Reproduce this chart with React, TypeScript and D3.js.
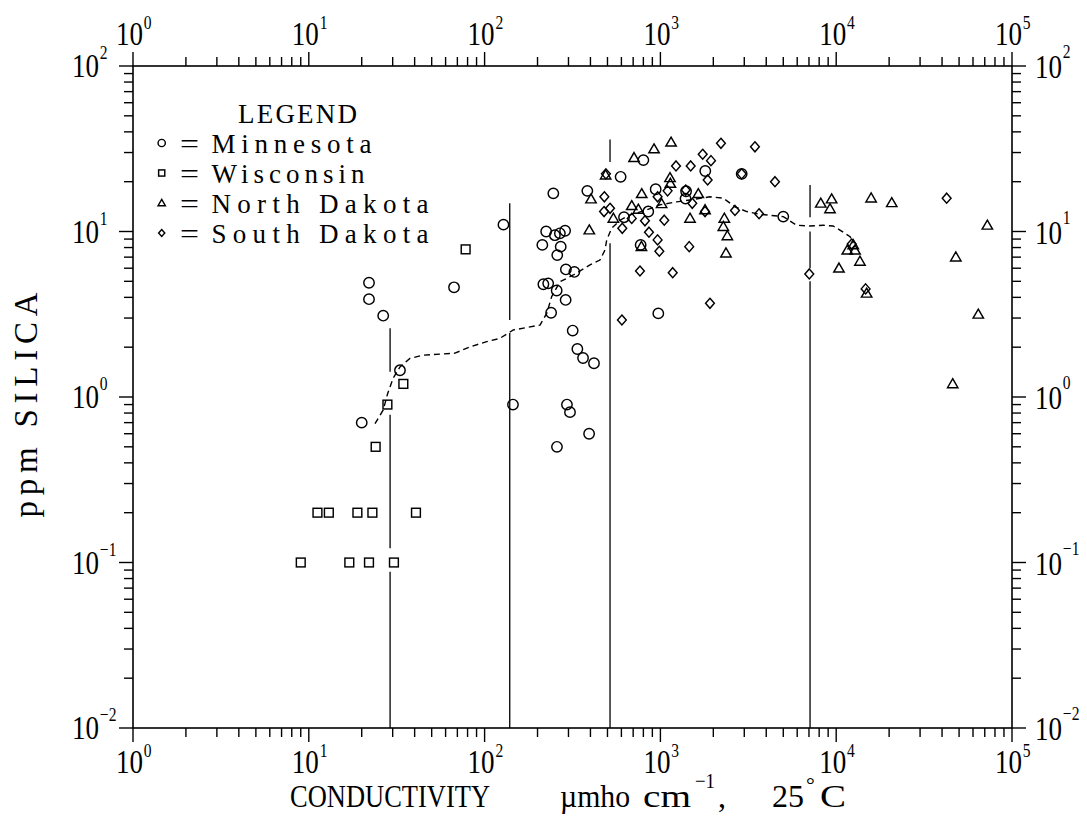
import React from 'react';
import * as d3 from 'd3';

// ---------- data ----------
const xMajorExp = ['0', '1', '2', '3', '4', '5'];
const yMajorExp = ['−2', '−1', '0', '1', '2'];

// [conductivity µmho/cm, ppm silica]
const minnesota: [number, number][] = [
  [22, 4.9], [22, 3.9], [26.5, 3.1], [67, 4.6], [33, 1.45], [20, 0.7],
  [128, 11], [145, 0.9],
  [246, 17], [224, 10], [251, 9.5], [268, 9.75], [287, 10.1], [213, 8.3], [271, 8.1], [259, 7.2],
  [290, 5.9], [324, 5.7], [216, 4.8], [230, 4.86], [257, 4.4], [289, 3.86], [239, 3.23], [317, 2.52],
  [337, 1.95], [363, 1.72], [419, 1.6], [294, 0.9], [306, 0.81], [393, 0.6], [258, 0.5],
  [384, 17.6], [594, 21.4], [800, 27], [621, 12.2], [940, 18], [853, 13.2], [772, 8.3], [973, 3.2],
  [1800, 23.2], [1400, 17.5], [1390, 15.8], [2900, 22.3], [5000, 12.3],
];

const wisconsin: [number, number][] = [
  [78, 7.8], [34.5, 1.2], [28, 0.9], [24, 0.5],
  [11.2, 0.2], [13, 0.2], [18.9, 0.2], [23, 0.2], [40.7, 0.2],
  [9, 0.1], [17, 0.1], [22, 0.1], [30.5, 0.1],
];

const northDakota: [number, number][] = [
  [1150, 34.6], [920, 31.5], [708, 27.9], [488, 21.9], [403, 15.7], [783, 16.9], [687, 14.3],
  [749, 13.6], [1016, 14.7], [1134, 21.1], [1140, 19.5], [540, 12], [394, 10.2], [1643, 16.9],
  [1474, 12], [2310, 12], [2280, 10.7], [2404, 9.4], [2360, 7.4], [780, 8.1], [1794, 13.5],
  [8170, 14.8], [9420, 15.7], [9220, 13.7], [15800, 15.9], [20700, 14.9], [72400, 10.9],
  [47900, 7], [64300, 3.16], [11560, 7.7], [12800, 7.7], [12500, 8.3], [13650, 6.6],
  [10370, 6], [14900, 4.23], [46000, 1.2],
];

const southDakota: [number, number][] = [
  [2210, 34.1], [3450, 32.5], [1740, 29.3], [1940, 26.8], [1227, 24.9], [1487, 24.9],
  [1857, 20.5], [4485, 20], [480, 16.2], [1393, 17.8], [1518, 14.8], [1794, 13.2], [478, 13.2],
  [517, 13.8], [687, 12], [607, 10.45], [817, 11.6], [1052, 11.7], [964, 16.2], [1099, 17.6],
  [861, 9.9], [964, 8.9], [986, 7.6], [1459, 8.1], [765, 5.77], [1175, 5.64], [1914, 3.68],
  [604, 2.92], [2656, 13.4], [3640, 12.8], [42500, 15.9], [7030, 5.54], [14700, 4.5],
  [12250, 8.4], [490, 22.3], [2900, 22.3],
];

// dashed trend curve
const curveC = [23.8, 26.5, 28.1, 30.2, 33, 37.6, 44.8, 67.9, 82.6, 102.8, 122, 145.6, 206.5, 225.5,
  240.8, 268.5, 319.6, 397.7, 453, 484, 495, 528, 589, 671, 836, 995, 1238, 1473, 1914, 2279, 2656,
  3096, 3687, 5003, 5960, 7100, 8450, 9590, 10500, 12000, 12500];
const curveV = [0.69, 0.835, 1.05, 1.3, 1.52, 1.71, 1.79, 1.84, 2.01, 2.16, 2.26, 2.54, 2.72, 3.2,
  4.04, 4.97, 5.46, 6.28, 6.72, 7.73, 8.88, 10.45, 11.7, 12.6, 13.5, 14.5, 15.1, 15.5, 16.2, 15.9, 14.1,
  13.2, 12.7, 12.3, 10.9, 10.8, 10.9, 10.8, 10.2, 9.3, 8.5];

// vertical reference lines: conductivity, and [top, bottom] ppm of each drawn piece
const vLineC = [29, 139, 517, 7100];
const vLinePieces: [number, number][][] = [
  [[2.6, 1.42], [0.78, 0.122], [0.088, 0.01]],
  [[14.8, 2.92], [2.44, 0.01]],
  [[36, 26.3], [8.5, 0.01]],
  [[19.1, 12.2], [10.0, 6.0], [5.0, 0.01]],
];

const legendNames = ['Minnesota', 'Wisconsin', 'North Dakota', 'South Dakota'];
const legendWidths = [160, 153, 217, 217];

const FONT = '"Liberation Serif", "DejaVu Serif", serif';
const SW = 1.45;

function Marker({ kind, cx, cy, s = 1 }: { kind: number; cx: number; cy: number; s?: number }) {
  const common = { fill: 'none', stroke: '#000', strokeWidth: SW };
  if (kind === 0) return <circle cx={cx} cy={cy} r={5.2 * s} {...common} />;
  if (kind === 1) {
    const h = 4.4 * s;
    return <rect x={cx - h} y={cy - h} width={2 * h} height={2 * h} {...common} />;
  }
  if (kind === 2) {
    const w = 5.2 * s;
    return <path d={`M${cx},${cy - 5.2 * s}L${cx + w},${cy + 3.8 * s}L${cx - w},${cy + 3.8 * s}Z`} {...common} />;
  }
  const a = 4.4 * s, b = 5 * s;
  return <path d={`M${cx},${cy - b}L${cx + a},${cy}L${cx},${cy + b}L${cx - a},${cy}Z`} {...common} />;
}

// "10" with a superscript exponent, condensed like the original plotter lettering
function Pow({ x, y, exp, dy }: { x: number; y: number; exp: string; dy: number }) {
  return (
    <text transform={`translate(${x},${y}) scale(0.82,1)`} fontSize={33}>
      10<tspan fontSize={19} dx={1} dy={dy}>{exp}</tspan>
    </text>
  );
}

export default function App() {
  const x = d3.scaleLog().domain([1, 1e5]).range([133, 1012]);
  const y = d3.scaleLog().domain([0.01, 100]).range([728, 66]);
  const [x0, x1] = x.range();
  const [y0, y1] = y.range(); // y0 bottom, y1 top

  const xt = x.ticks();
  const yt = y.ticks();
  const isMajor = (v: number) => Math.abs(Math.log10(v) - Math.round(Math.log10(v))) < 1e-9;
  const MAJ = 14, MIN = 9;

  const line = d3.line<number>().x((_, i) => x(curveC[i])).y((_, i) => y(curveV[i]));
  const series = [minnesota, wisconsin, northDakota, southDakota];
  const xMajors = xt.filter(isMajor);
  const yMajors = yt.filter(isMajor);

  return (
    <svg width={1087} height={818} style={{ position: 'absolute', left: 0, top: 0, background: '#fff' }}
      fontFamily={FONT}>
      <rect width={1087} height={818} fill="#fff" />
      {/* frame */}
      <rect x={x0} y={y1} width={x1 - x0} height={y0 - y1} fill="none" stroke="#000" strokeWidth={1.6} />
      {/* x ticks bottom & top */}
      {xt.map((t, i) => {
        const L = isMajor(t) ? MAJ : MIN;
        return (
          <g key={'xt' + i} stroke="#000" strokeWidth={1.4}>
            <line x1={x(t)} x2={x(t)} y1={y0} y2={y0 + L} />
            <line x1={x(t)} x2={x(t)} y1={y1} y2={y1 - L} />
          </g>
        );
      })}
      {yt.map((t, i) => {
        const L = isMajor(t) ? MAJ : MIN;
        return (
          <g key={'yt' + i} stroke="#000" strokeWidth={1.4}>
            <line x1={x0} x2={x0 - L} y1={y(t)} y2={y(t)} />
            <line x1={x1} x2={x1 + L} y1={y(t)} y2={y(t)} />
          </g>
        );
      })}
      {/* x tick labels (bottom and top) */}
      {xMajors.map((t, i) => (
        <g key={'xl' + i}>
          <Pow x={x(t) - 17} y={y0 + 45} exp={xMajorExp[i]} dy={-16} />
          <Pow x={x(t) - 17} y={y1 - 21} exp={xMajorExp[i]} dy={-16} />
        </g>
      ))}
      {/* y tick labels (left and right) */}
      {yMajors.map((t, i) => (
        <g key={'yl' + i}>
          <Pow x={72} y={y(t) + 11} exp={yMajorExp[i]} dy={-18} />
          <Pow x={1035} y={y(t) + 12} exp={yMajorExp[i]} dy={-20} />
        </g>
      ))}
      {/* vertical reference lines */}
      {vLineC.map((c, i) =>
        vLinePieces[i].map((p, j) => (
          <line key={`v${i}-${j}`} x1={x(c)} x2={x(c)} y1={y(p[0])} y2={y(p[1])} stroke="#000" strokeWidth={1.3} />
        ))
      )}
      {/* dashed trend */}
      <path d={line(curveC) || ''} fill="none" stroke="#000" strokeWidth={1.4} strokeDasharray="6,4" />
      {/* points */}
      {series.map((s, k) => s.map((d, i) => <Marker key={`p${k}-${i}`} kind={k} cx={x(d[0])} cy={y(d[1])} />))}
      {/* legend */}
      <text x={238} y={122.5} fontSize={27} textLength={119} lengthAdjust="spacing">LEGEND</text>
      {legendNames.map((n, i) => {
        const by = 152.5 + 30 * i;
        return (
          <g key={'lg' + i}>
            <Marker kind={i} cx={161.7} cy={by - 9.5} s={0.7} />
            <text x={180} y={by} fontSize={27} textLength={19} lengthAdjust="spacingAndGlyphs">=</text>
            <text x={211.5} y={by} fontSize={27} textLength={legendWidths[i]} lengthAdjust="spacing">{n}</text>
          </g>
        );
      })}
      {/* axis titles */}
      <text x={290} y={807} fontSize={32} textLength={200} lengthAdjust="spacingAndGlyphs">CONDUCTIVITY</text>
      <text x={560} y={807} fontSize={32} textLength={70} lengthAdjust="spacingAndGlyphs">µmho</text>
      <text x={643} y={807} fontSize={32} textLength={48} lengthAdjust="spacingAndGlyphs">cm</text>
      <text x={695} y={788} fontSize={21} textLength={20} lengthAdjust="spacingAndGlyphs">−1</text>
      <text x={718} y={807} fontSize={32}>,</text>
      <text x={772} y={807} fontSize={32} textLength={32} lengthAdjust="spacingAndGlyphs">25</text>
      <text x={806} y={792} fontSize={22}>°</text>
      <text x={820} y={807} fontSize={32} textLength={26} lengthAdjust="spacingAndGlyphs">C</text>
      <text x={37} y={405} fontSize={33} textAnchor="middle" textLength={225} lengthAdjust="spacing"
        transform="rotate(-90,37,405)">ppm SILICA</text>
    </svg>
  );
}
